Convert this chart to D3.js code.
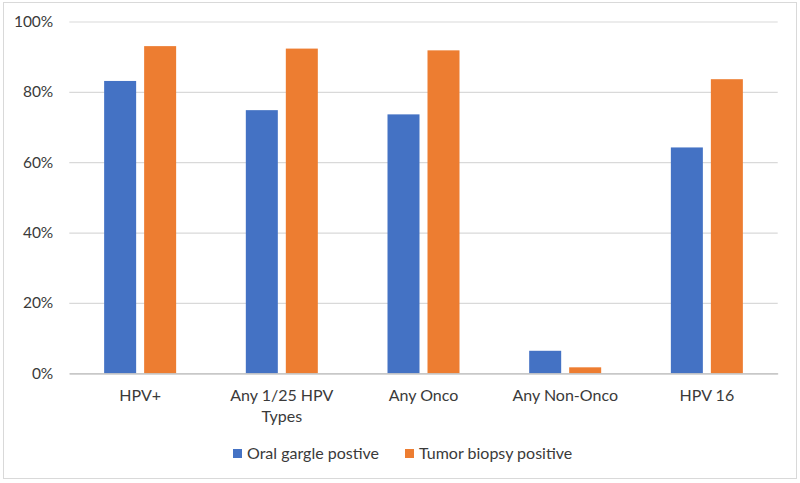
<!DOCTYPE html>
<html>
<head>
<meta charset="utf-8">
<script src="https://cdn.jsdelivr.net/npm/d3@7"></script>
<style>
  html, body { margin: 0; padding: 0; background: #fff; }
  svg { display: block; }
  text { font-family: Lato, "Open Sans", sans-serif; fill: #3a3a3a; }
</style>
</head>
<body>
<svg id="chart" width="800" height="483"></svg>
<script>
const categories = ["HPV+", "Any 1/25 HPV Types", "Any Onco", "Any Non-Onco", "HPV 16"];
const seriesNames = ["Oral gargle postive", "Tumor biopsy positive"];
const oralGargle = [0.831, 0.748, 0.736, 0.064, 0.642];
const tumorBiopsy = [0.930, 0.923, 0.918, 0.017, 0.836];
const yTicks = [0, 0.2, 0.4, 0.6, 0.8, 1.0];
const colors = ["#4472C4", "#ED7D31"];

const svg = d3.select("#chart");
const plot = { left: 69.3, right: 777.7, top: 21.5, bottom: 373.3 };

// outer chart border
svg.append("rect")
  .attr("x", 3.5).attr("y", 2.5)
  .attr("width", 793).attr("height", 476)
  .attr("fill", "#fff").attr("stroke", "#d9d9d9").attr("stroke-width", 1);

const y = d3.scaleLinear().domain([0, 1]).range([plot.bottom, plot.top]);
const x0 = d3.scaleBand().domain(categories).range([plot.left, plot.right]).padding(0);
const groupW = 72;
const x1 = d3.scaleBand().domain(seriesNames).range([0, groupW]).paddingInner(0.2).paddingOuter(0);

// gridlines + y labels
const yAxis = d3.axisLeft(y).tickValues(yTicks).tickFormat(d3.format(".0%")).tickSize(-(plot.right - plot.left)).tickPadding(16);
const gy = svg.append("g").attr("transform", `translate(${plot.left},0)`).call(yAxis);
gy.select(".domain").remove();
gy.selectAll(".tick line").attr("stroke", "#d9d9d9").attr("stroke-width", 1.2);
gy.selectAll(".tick text").attr("font-size", 15.5).attr("fill", "#3a3a3a")
  .style("font-family", "Lato, 'Open Sans', sans-serif");

// bars
const data = categories.map((c, i) => ({ c, vals: [oralGargle[i], tumorBiopsy[i]] }));
const groups = svg.append("g").selectAll("g").data(data).join("g")
  .attr("transform", d => `translate(${x0(d.c) + (x0.bandwidth() - groupW) / 2},0)`);
groups.selectAll("rect").data(d => d.vals.map((v, j) => ({ v, s: seriesNames[j], j })))
  .join("rect")
  .attr("x", d => x1(d.s))
  .attr("width", x1.bandwidth())
  .attr("y", d => y(d.v))
  .attr("height", d => y(0) - y(d.v))
  .attr("fill", d => colors[d.j]);

// x axis
const xAxis = d3.axisBottom(x0).tickSize(0).tickPadding(0);
const gx = svg.append("g").attr("transform", `translate(0,${plot.bottom})`).call(xAxis);
gx.select(".domain").attr("stroke", "#bfbfbf").attr("stroke-width", 1.2);
gx.selectAll(".tick text").attr("font-size", 16).attr("fill", "#3a3a3a")
  .style("font-family", "Lato, 'Open Sans', sans-serif")
  .attr("dy", null).attr("y", 28)
  .each(function(d) {
    const t = d3.select(this);
    const words = d.split(" ");
    t.text(null);
    let line = [], lineNo = 0;
    let tspan = t.append("tspan").attr("x", 0).attr("y", 28);
    for (const w of words) {
      line.push(w);
      tspan.text(line.join(" "));
      if (tspan.node().getComputedTextLength() > 120 && line.length > 1) {
        line.pop();
        tspan.text(line.join(" "));
        line = [w];
        lineNo++;
        tspan = t.append("tspan").attr("x", 0).attr("y", 28 + lineNo * 21).text(w);
      }
    }
  });

// legend
const legend = svg.append("g");
const legendItems = [
  { name: seriesNames[0], color: colors[0], x: 233 },
  { name: seriesNames[1], color: colors[1], x: 405 }
];
legendItems.forEach(it => {
  legend.append("rect").attr("x", it.x).attr("y", 449).attr("width", 9).attr("height", 9).attr("fill", it.color);
  legend.append("text").attr("x", it.x + 14).attr("y", 459).attr("font-size", 16).text(it.name);
});
</script>
</body>
</html>
